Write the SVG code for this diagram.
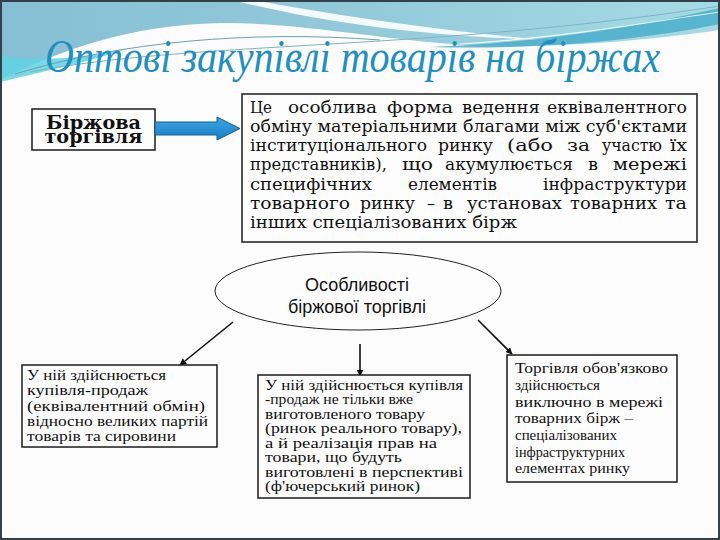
<svg xmlns="http://www.w3.org/2000/svg" width="720" height="540" viewBox="0 0 720 540">
<defs>
<linearGradient id="sky" x1="0" y1="0" x2="1" y2="0">
<stop offset="0" stop-color="#86bfd5"/>
<stop offset="0.5" stop-color="#93cada"/>
<stop offset="1" stop-color="#a6dbe5"/>
</linearGradient>
<linearGradient id="arrowFill" x1="0" y1="0" x2="0" y2="1">
<stop offset="0" stop-color="#3aa8e6"/>
<stop offset="1" stop-color="#1a7cc4"/>
</linearGradient>
<marker id="ah" viewBox="0 0 10 10" refX="9" refY="5" markerWidth="7" markerHeight="7" orient="auto" markerUnits="userSpaceOnUse">
<path d="M0,0 L10,5 L0,10 Z" fill="#111"/>
</marker>
<style>
.box{fill:#fdfdfd;stroke:#1a1a1a;stroke-width:1.5}
.title{font-family:'Liberation Serif','DejaVu Serif',serif;font-style:italic;font-size:46px;fill:#1f8fc0}
.head{font-family:'DejaVu Serif','Liberation Serif',serif;font-weight:bold;font-size:18px;fill:#111}
.main{font-family:'DejaVu Serif','Liberation Serif',serif;font-size:16.5px;fill:#111}
.small{font-family:'Liberation Serif','DejaVu Serif',serif;font-size:14.5px;fill:#111}
.ell{font-family:'Liberation Sans',Arial,sans-serif;font-size:18px;fill:#111}
.conn{stroke:#111;stroke-width:1.6;fill:none;marker-end:url(#ah)}
</style>
</defs>
<rect x="0" y="0" width="720" height="540" fill="#fcfcfc"/>
<!-- decorative header -->
<path d="M0,0 H720 V30 C650,40 560,48 480,46 C380,40 300,22 220,23 C130,25 60,50 0,80 Z" fill="url(#sky)"/>
<path d="M0,56 C40,62 90,58 130,48 C90,62 40,72 0,82 Z" fill="#5fd2e2" opacity="0.85"/>
<path d="M232,0 L252,0 C330,14 430,30 545,40 C420,36 320,22 232,0 Z" fill="#ffffff" opacity="0.9"/>
<path d="M430,47 C540,43 640,26 720,8 V24 C640,40 540,50 430,47 Z" fill="#4aaecb" opacity="0.85"/>
<path d="M15,74 C120,42 250,30 380,40" stroke="#6b9fb3" stroke-width="1" fill="none"/>
<path d="M30,72 C200,40 420,52 720,6" stroke="#7fb3c4" stroke-width="1" fill="none"/>
<path d="M460,44 C560,38 650,22 720,12" stroke="#ffffff" stroke-width="1.2" fill="none" opacity="0.8"/>
<rect x="1" y="1" width="718" height="538" fill="none" stroke="#33404a" stroke-width="2"/>
<text class="title" x="45" y="72" textLength="615" lengthAdjust="spacingAndGlyphs">Оптові закупівлі товарів на біржах</text>

<g id="node-birzhova">
<rect class="box" x="32" y="109" width="123" height="41"/>
<text class="head" x="93.5" y="128.5" text-anchor="middle" textLength="95" lengthAdjust="spacingAndGlyphs">Біржова</text>
<text class="head" x="93.5" y="143" text-anchor="middle" textLength="98" lengthAdjust="spacingAndGlyphs">торгівля</text>
</g>

<g id="node-arrow">
<path d="M155,122 H217 V117 L240,128.5 L217,140 V135 H155 Z" fill="url(#arrowFill)" stroke="#1b5d8f" stroke-width="1"/>
</g>

<g id="node-definition">
<rect class="box" x="242" y="94" width="455" height="148"/>
<text class="main" y="113"><tspan x="250" textLength="22" lengthAdjust="spacingAndGlyphs">Це</tspan> <tspan x="288" textLength="89" lengthAdjust="spacingAndGlyphs">особлива</tspan> <tspan x="387" textLength="66" lengthAdjust="spacingAndGlyphs">форма</tspan> <tspan x="462" textLength="78" lengthAdjust="spacingAndGlyphs">ведення</tspan> <tspan x="547" textLength="140" lengthAdjust="spacingAndGlyphs">еквівалентного</tspan></text>
<text class="main" x="250" y="132" textLength="437" lengthAdjust="spacingAndGlyphs">обміну матеріальними благами між суб'єктами</text>
<text class="main" y="151"><tspan x="250" textLength="177" lengthAdjust="spacingAndGlyphs">інституціонального</tspan> <tspan x="438" textLength="55" lengthAdjust="spacingAndGlyphs">ринку</tspan> <tspan x="507" textLength="46" lengthAdjust="spacingAndGlyphs">(або</tspan> <tspan x="567" textLength="23" lengthAdjust="spacingAndGlyphs">за</tspan> <tspan x="602" textLength="60" lengthAdjust="spacingAndGlyphs">участю</tspan> <tspan x="670" textLength="17" lengthAdjust="spacingAndGlyphs">їх</tspan></text>
<text class="main" y="170"><tspan x="250" textLength="137" lengthAdjust="spacingAndGlyphs">представників),</tspan> <tspan x="402" textLength="31" lengthAdjust="spacingAndGlyphs">що</tspan> <tspan x="445" textLength="128" lengthAdjust="spacingAndGlyphs">акумулюється</tspan> <tspan x="588" textLength="10" lengthAdjust="spacingAndGlyphs">в</tspan> <tspan x="613" textLength="74" lengthAdjust="spacingAndGlyphs">мережі</tspan></text>
<text class="main" y="190"><tspan x="250" textLength="122" lengthAdjust="spacingAndGlyphs">специфічних</tspan> <tspan x="408" textLength="89" lengthAdjust="spacingAndGlyphs">елементів</tspan> <tspan x="543" textLength="144" lengthAdjust="spacingAndGlyphs">інфраструктури</tspan></text>
<text class="main" y="209"><tspan x="250" textLength="100" lengthAdjust="spacingAndGlyphs">товарного</tspan> <tspan x="360" textLength="55" lengthAdjust="spacingAndGlyphs">ринку</tspan> <tspan x="427" textLength="8" lengthAdjust="spacingAndGlyphs">–</tspan> <tspan x="443" textLength="10" lengthAdjust="spacingAndGlyphs">в</tspan> <tspan x="467" textLength="95" lengthAdjust="spacingAndGlyphs">установах</tspan> <tspan x="570" textLength="87" lengthAdjust="spacingAndGlyphs">товарних</tspan> <tspan x="665" textLength="22" lengthAdjust="spacingAndGlyphs">та</tspan></text>
<text class="main" x="250" y="228" textLength="267" lengthAdjust="spacingAndGlyphs">інших спеціалізованих бірж</text>
</g>

<g id="node-features">
<ellipse cx="358" cy="291" rx="143" ry="39" fill="#fdfdfd" stroke="#222" stroke-width="1"/>
<text class="ell" x="357" y="291" text-anchor="middle">Особливості</text>
<text class="ell" x="357" y="313" text-anchor="middle">біржової торгівлі</text>
</g>

<g id="connectors">
<line class="conn" x1="233" y1="322" x2="180" y2="365"/>
<line class="conn" x1="360" y1="344" x2="360" y2="376"/>
<line class="conn" x1="478" y1="320" x2="512" y2="354"/>
</g>

<g id="node-left">
<rect class="box" x="22" y="365" width="195" height="82"/>
<text class="small" x="27" y="379.5" textLength="139" lengthAdjust="spacingAndGlyphs">У ній здійснюється</text>
<text class="small" x="27" y="395" textLength="121" lengthAdjust="spacingAndGlyphs">купівля-продаж</text>
<text class="small" x="27" y="410.5" textLength="178" lengthAdjust="spacingAndGlyphs">(еквівалентний обмін)</text>
<text class="small" x="27" y="426" textLength="181" lengthAdjust="spacingAndGlyphs">відносно великих партій</text>
<text class="small" x="27" y="441" textLength="149" lengthAdjust="spacingAndGlyphs">товарів та сировини</text>
</g>

<g id="node-middle">
<rect class="box" x="258" y="375" width="212" height="123"/>
<text class="small" x="265" y="389.5" textLength="198" lengthAdjust="spacingAndGlyphs">У ній здійснюється купівля</text>
<text class="small" x="265" y="404" textLength="148" lengthAdjust="spacingAndGlyphs">-продаж не тільки вже</text>
<text class="small" x="265" y="418.5" textLength="160" lengthAdjust="spacingAndGlyphs">виготовленого товару</text>
<text class="small" x="265" y="433" textLength="197" lengthAdjust="spacingAndGlyphs">(ринок реального товару),</text>
<text class="small" x="265" y="447.5" textLength="172" lengthAdjust="spacingAndGlyphs">а й реалізація прав на</text>
<text class="small" x="265" y="462" textLength="137" lengthAdjust="spacingAndGlyphs">товари, що будуть</text>
<text class="small" x="265" y="476.5" textLength="198" lengthAdjust="spacingAndGlyphs">виготовлені в перспективі</text>
<text class="small" x="265" y="491" textLength="155" lengthAdjust="spacingAndGlyphs">(ф'ючерський ринок)</text>
</g>

<g id="node-right">
<rect class="box" x="507" y="355" width="170" height="127"/>
<text class="small" x="515" y="373" textLength="153" lengthAdjust="spacingAndGlyphs">Торгівля обов'язково</text>
<text class="small" x="515" y="390" textLength="85" lengthAdjust="spacingAndGlyphs">здійснюється</text>
<text class="small" x="515" y="406.5" textLength="148" lengthAdjust="spacingAndGlyphs">виключно в мережі</text>
<text class="small" x="515" y="423" textLength="118" lengthAdjust="spacingAndGlyphs">товарних бірж –</text>
<text class="small" x="515" y="440" textLength="102" lengthAdjust="spacingAndGlyphs">спеціалізованих</text>
<text class="small" x="515" y="456.5" textLength="110" lengthAdjust="spacingAndGlyphs">інфраструктурних</text>
<text class="small" x="515" y="473" textLength="115" lengthAdjust="spacingAndGlyphs">елементах ринку</text>
</g>
</svg>
